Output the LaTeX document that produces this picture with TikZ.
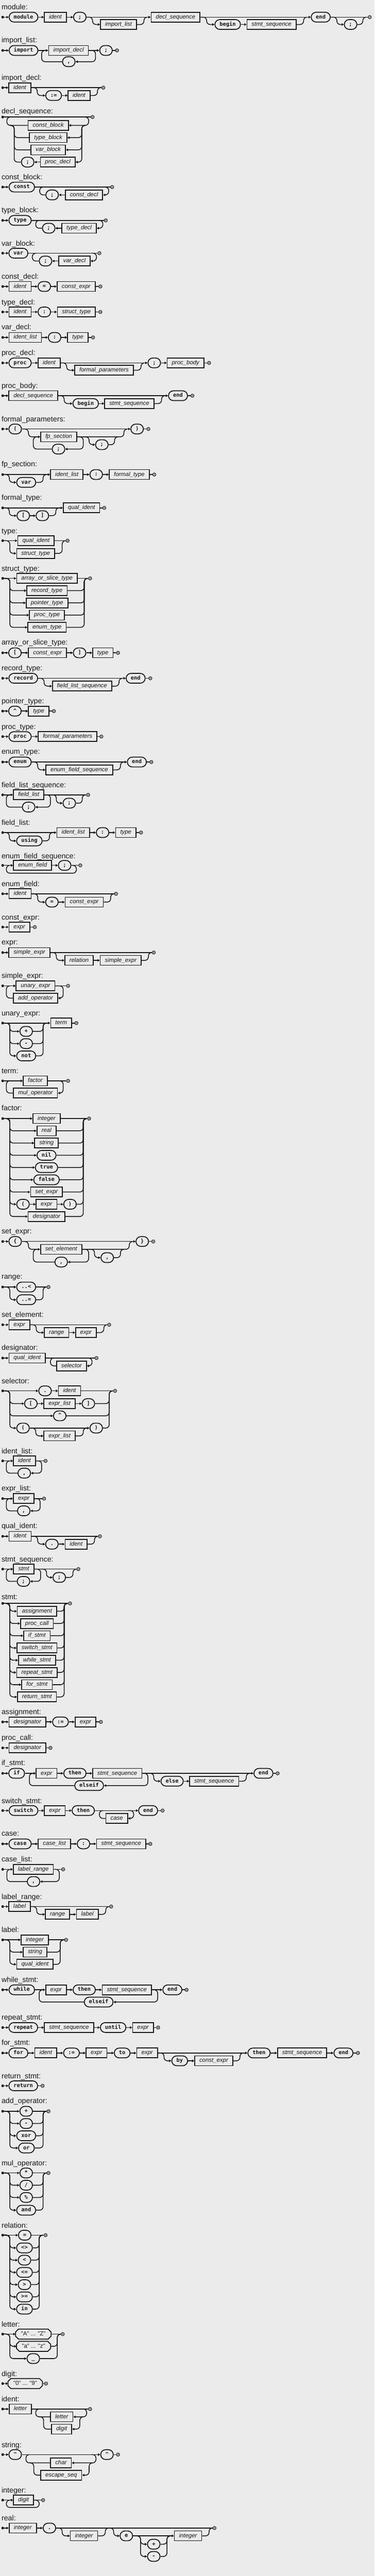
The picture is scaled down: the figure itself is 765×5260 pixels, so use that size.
\documentclass[tikz,border=0pt]{standalone}
\usepackage{fontspec}
\usetikzlibrary{arrows.meta,calc}
\newfontfamily\lblfont{Liberation Sans}
\newfontfamily\tmfont{DejaVu Sans Mono}
\definecolor{bgc}{HTML}{EBEBEB}
\definecolor{ink}{HTML}{161616}
\tikzset{
 rr/.style={line width=1.6pt,draw=ink},
 arr/.style={-{Triangle[length=4.5pt,width=5pt]}},
 nt/.style={draw=ink,line width=1.8pt,rectangle,minimum height=20pt,inner xsep=9.5pt,inner ysep=0pt,text height=8.6pt,text depth=2.4pt,font=\lblfont\itshape\fontsize{12}{12}\selectfont,text=ink},
 tm/.style={draw=ink,line width=1.8pt,rectangle,rounded corners=10pt,minimum height=20pt,minimum width=25pt,inner xsep=9.5pt,inner ysep=0pt,text height=8pt,text depth=2.2pt,font=\tmfont\bfseries\fontsize{11}{11}\selectfont,text=ink},
 ocn/.style={rectangle,minimum height=20pt,inner xsep=11pt,inner ysep=0pt,text height=8.6pt,text depth=2.4pt,font=\lblfont\fontsize{12}{12}\selectfont,text=ink},
 ocl/.style={draw=ink,line width=1.8pt},
 lbl/.style={anchor=base west,inner sep=0pt,font=\lblfont\fontsize{15}{15}\selectfont,text=ink},
 stn/.style={circle,fill=ink,inner sep=0pt,minimum size=5.5pt},
 enn/.style={circle,draw=ink,line width=1.2pt,inner sep=0pt,minimum size=6.5pt,path picture={\fill[ink] (path picture bounding box.center) circle (1.2pt);}},
}
\newcommand\RLbl[2]{\node[lbl] (lab#1) at (3,{#1+5}) {#2};}
\newcommand\RSt[2]{\node[stn] (#1) at (5.5,#2) {};}
\newcommand\REn[3]{\node[enn] (#1) at (#2,#3) {};}
\newcommand\RNt[4]{\node[nt] (#1) at (#2,#3) {#4};}
\newcommand\RTm[4]{\node[tm] (#1) at (#2,#3) {#4};}
\newcommand\ROc[4]{\node[ocn] (#1) at (#2,#3) {#4};\draw[ocl] ($(#1.north west)+(6,0)$) -- ($(#1.north east)+(-6,0)$) -- ($(#1.north east)+(0,6)$) -- ($(#1.south east)+(0,-6)$) -- ($(#1.south east)+(-6,0)$) -- ($(#1.south west)+(6,0)$) -- ($(#1.south west)+(0,-6)$) -- ($(#1.north west)+(0,6)$) -- cycle;}
\newcommand\RAr[2]{\draw[rr,arr] (#1.east) -- (#2.west);}
\newcommand\RAl[2]{\draw[rr,arr] (#1.west) -- (#2.east);}
\newcommand\RLn[2]{\draw[rr] (#1.east) -- (#2.west);}
\newcommand\RBd[4]{\draw[rr,arr,rounded corners=7pt] (#1,#2) -- (#3,#2) |- (#4);}
\newcommand\RBu[4]{\draw[rr,rounded corners=7pt] (#1) -| (#2,#3) -- (#4,#3);}
\newcommand\RCh[6]{\RBd{#2}{#3}{#4}{#1.west}\RBu{#1.east}{#5}{#3}{#6}}
\begin{document}
\begin{tikzpicture}[x=1pt,y=-1pt]
\useasboundingbox (0,0) rectangle (765,5260);
\fill[bgc] (0,0) rectangle (765,5260);
% module
\RLbl{14}{module:}
\RSt{ma}{35}\RTm{mb}{48}{35}{module}\RNt{mc}{113}{35}{ident}\RTm{md}{163}{35}{;}
\RNt{me}{242}{50}{import\_list}\RNt{mf}{358.5}{35}{decl\_sequence}\RTm{mg}{465}{50}{begin}
\RNt{mh}{554.5}{50}{stmt\_sequence}\RTm{mi}{655}{35}{end}\RTm{mj}{716}{50}{;}\REn{mk}{755}{35}
\RAr{ma}{mb}\RAr{mb}{mc}\RAr{mc}{md}\RAr{md}{mf}
\RBd{177}{35}{189}{me.west}\RBu{me.east}{294}{35}{301}
\RAr{mf}{mi}\RBd{410}{35}{422}{mg.west}\RAr{mg}{mh}\RBu{mh.east}{620}{35}{627}
\RLn{mi}{mk}\RBd{676}{35}{688}{mj.west}\RBu{mj.east}{741}{35}{748}
% import_list
\RLbl{82}{import\_list:}
\RSt{na}{103}\RTm{nb}{48}{103}{import}\RNt{nc}{140}{103}{import\_decl}\RTm{nd}{140.5}{126}{,}\RTm{ne}{216.5}{103}{;}\REn{nf}{239}{103}
\RAr{na}{nb}\RAr{nb}{nc}\RAr{nc}{ne}\RLn{ne}{nf}
\RBd{182}{103}{195}{nd.east}\RBu{nd.west}{85}{103}{92}
% import_decl
\RLbl{159}{import\_decl:}
\RSt{oa}{179}\RNt{ob}{40.5}{179}{ident}\RTm{oc}{109.5}{195}{:=}\RNt{od}{161.5}{195}{ident}\REn{oe}{211}{179}
\RAr{oa}{ob}\RLn{ob}{oe}\RBd{64}{179}{76}{oc.west}\RAr{oc}{od}\RBu{od.east}{199}{179}{206}
% decl_sequence
\RLbl{227}{decl\_sequence:}
\RSt{pa}{239}\REn{pz}{189}{239}\RLn{pa}{pz}
\RNt{pb}{98.5}{256}{const\_block}\RNt{pc}{98.5}{281}{type\_block}\RNt{pd}{98.5}{306}{var\_block}
\RNt{pe}{118}{331}{proc\_decl}\RTm{pf}{56.5}{331}{;}
\RBd{170}{239}{181}{pb.east}\RBu{pb.west}{14}{239}{22}
\RBd{174}{256}{167}{pc.east}\RBd{174}{256}{167}{pd.east}\RBd{174}{256}{167}{pe.east}
\RBu{pc.west}{29}{256}{21}\RBu{pd.west}{29}{256}{21}\RAl{pe}{pf}\RBu{pf.west}{29}{256}{21}
% const_block
\RLbl{362}{const\_block:}
\RSt{qa}{382}\RTm{qb}{44.5}{382}{const}\REn{qz}{229}{382}\RAr{qa}{qb}\RLn{qb}{qz}
\RNt{qc}{171.5}{398}{const\_decl}\RTm{qd}{106.5}{398}{;}
\RBd{212}{382}{222}{qc.east}\RAl{qc}{qd}\RBu{qd.west}{81}{382}{88}
% type_block
\RLbl{429}{type\_block:}
\RSt{ra}{450}\RTm{rb}{41}{450}{type}\REn{rz}{216}{450}\RAr{ra}{rb}\RLn{rb}{rz}
\RNt{rc}{161.5}{466}{type\_decl}\RTm{rd}{99.5}{466}{;}
\RBd{199}{450}{210}{rc.east}\RAl{rc}{rd}\RBu{rd.west}{73}{450}{80}
% var_block
\RLbl{497}{var\_block:}
\RSt{sa}{517}\RTm{sb}{37.5}{517}{var}\REn{sz}{203}{517}\RAr{sa}{sb}\RLn{sb}{sz}
\RNt{sc}{152}{533}{var\_decl}\RTm{sd}{93}{533}{;}
\RBd{187}{517}{197}{sc.east}\RAl{sc}{sd}\RBu{sd.west}{66}{517}{73}
% const_decl
\RLbl{565}{const\_decl:}
\RSt{ta}{585}\RNt{tb}{41}{585}{ident}\RTm{tc}{90.5}{585}{=}\RNt{td}{155.5}{585}{const\_expr}\REn{tz}{205}{585}
\RAr{ta}{tb}\RAr{tb}{tc}\RAr{tc}{td}\RLn{td}{tz}
% type_decl
\RLbl{617}{type\_decl:}
\RSt{ua}{637}\RNt{ub}{41}{637}{ident}\RTm{uc}{90.5}{637}{:}\RNt{ud}{156}{637}{struct\_type}\REn{uz}{205}{637}
\RAr{ua}{ub}\RAr{ub}{uc}\RAr{uc}{ud}\RLn{ud}{uz}
% var_decl
\RLbl{668}{var\_decl:}
\RSt{va}{689}\RNt{vb}{51.5}{689}{ident\_list}\RTm{vc}{111.5}{689}{:}\RNt{vd}{159}{689}{type}\REn{vz}{190}{689}
\RAr{va}{vb}\RAr{vb}{vc}\RAr{vc}{vd}\RLn{vd}{vz}
% proc_decl
\RLbl{720}{proc\_decl:}
\RSt{wa}{741}\RTm{wb}{41}{741}{proc}\RNt{wc}{100.5}{741}{ident}\RNt{wd}{212.5}{756}{formal\_parameters}\RTm{we}{315}{741}{;}\RNt{wf}{379}{741}{proc\_body}\REn{wz}{427}{741}
\RAr{wa}{wb}\RAr{wb}{wc}\RAr{wc}{we}\RAr{we}{wf}\RLn{wf}{wz}
\RBd{124}{741}{136}{wd.west}\RBu{wd.east}{288}{741}{295}
% proc_body
\RLbl{788}{proc\_body:}
\RSt{xa}{808}\RNt{xb}{68}{808}{decl\_sequence}\RTm{xc}{175}{824}{begin}\RNt{xd}{264}{824}{stmt\_sequence}\RTm{xe}{363.5}{808}{end}\REn{xz}{393}{808}
\RAr{xa}{xb}\RAr{xb}{xe}\RLn{xe}{xz}\RBd{119}{808}{131}{xc.west}\RAr{xc}{xd}\RBu{xd.east}{330}{808}{337}
% formal_parameters
\RLbl{856}{formal\_parameters:}
\RSt{ya}{876}\RTm{yb}{31}{876}{(}\RTm{yz}{280}{876}{)}\REn{yy}{303}{876}
\RAr{ya}{yb}\RAr{yb}{yz}\RLn{yz}{yy}
\RNt{yc}{120}{892}{fp\_section}\RTm{yd}{119.5}{917}{;}\RTm{ye}{208}{908}{;}
\RBd{45}{876}{58}{yc.west}
\RBd{158}{892}{170}{yd.east}\RBu{yd.west}{68}{892}{75}
\RBd{170}{892}{182}{ye.west}\RBu{ye.east}{234}{892}{241}
\RBu{yc.east}{253}{876}{260}
% fp_section
\RLbl{948}{fp\_section:}
\RSt{za}{969}\RTm{zb}{53.5}{985}{var}\RNt{zc}{136.5}{969}{ident\_list}\RTm{zd}{196.5}{969}{:}\RNt{ze}{264}{969}{formal\_type}\REn{zz}{315}{969}
\RAr{za}{zc}\RAr{zc}{zd}\RAr{zd}{ze}\RLn{ze}{zz}
\RBd{8}{969}{19}{zb.west}\RBu{zb.east}{88}{969}{95}
% formal_type
\RLbl{1016}{formal\_type:}
\RSt{Aa}{1037}\RTm{Ab}{47.5}{1053}{[}\RTm{Ac}{86.5}{1053}{]}\RNt{Ad}{166.5}{1037}{qual\_ident}\REn{Az}{213}{1037}
\RAr{Aa}{Ad}\RLn{Ad}{Az}\RBd{8}{1037}{19}{Ab.west}\RAr{Ab}{Ac}\RBu{Ac.east}{114}{1037}{121}
% type
\RLbl{1084}{type:}
\RSt{Ba}{1104}\RNt{Bb}{73.5}{1104}{qual\_ident}\RNt{Bc}{73}{1130}{struct\_type}\REn{Bz}{138}{1104}
\RAr{Ba}{Bb}\RLn{Bb}{Bz}\RCh{Bc}{8}{1104}{20}{127}{134}
% struct_type
\RLbl{1161}{struct\_type:}
\RSt{Ca}{1181}\RNt{Cb}{96}{1181}{array\_or\_slice\_type}\RNt{Cc}{96}{1206}{record\_type}\RNt{Cd}{96}{1231}{pointer\_type}\RNt{Ce}{96}{1256}{proc\_type}\RNt{Cf}{96}{1281}{enum\_type}\REn{Cz}{184}{1181}
\RAr{Ca}{Cb}\RLn{Cb}{Cz}
\RCh{Cc}{8}{1181}{20}{172}{179}\RCh{Cd}{8}{1181}{20}{172}{179}\RCh{Ce}{8}{1181}{20}{172}{179}\RCh{Cf}{8}{1181}{20}{172}{179}
% array_or_slice_type
\RLbl{1312}{array\_or\_slice\_type:}
\RSt{Da}{1333}\RTm{Db}{30.5}{1333}{[}\RNt{Dc}{97}{1333}{const\_expr}\RTm{Dd}{162.5}{1333}{]}\RNt{De}{210}{1333}{type}\REn{Dz}{241}{1333}
\RAr{Da}{Db}\RAr{Db}{Dc}\RAr{Dc}{Dd}\RAr{Dd}{De}\RLn{De}{Dz}
% record_type
\RLbl{1364}{record\_type:}
\RSt{Ea}{1385}\RTm{Eb}{47.5}{1385}{record}\RNt{Ec}{167.5}{1401}{field\_list\_sequence}\RTm{Ed}{277}{1385}{end}\REn{Ez}{307}{1385}
\RAr{Ea}{Eb}\RAr{Eb}{Ed}\RLn{Ed}{Ez}\RBd{78}{1385}{90}{Ec.west}\RBu{Ec.east}{243}{1385}{250}
% pointer_type
\RLbl{1432}{pointer\_type:}
\RSt{Fa}{1452}\RTm{Fb}{30.5}{1452}{\textasciicircum}\RNt{Fc}{79}{1452}{type}\REn{Fz}{110}{1452}
\RAr{Fa}{Fb}\RAr{Fb}{Fc}\RLn{Fc}{Fz}
% proc_type
\RLbl{1484}{proc\_type:}
\RSt{Ga}{1504}\RTm{Gb}{41}{1504}{proc}\RNt{Gc}{138}{1504}{formal\_parameters}\REn{Gz}{207}{1504}
\RAr{Ga}{Gb}\RAr{Gb}{Gc}\RLn{Gc}{Gz}
% enum_type
\RLbl{1535}{enum\_type:}
\RSt{Ha}{1556}\RTm{Hb}{41}{1556}{enum}\RNt{Hc}{162}{1572}{enum\_field\_sequence}\RTm{Hd}{279.5}{1556}{end}\REn{Hz}{309}{1556}
\RAr{Ha}{Hb}\RAr{Hb}{Hd}\RLn{Hd}{Hz}\RBd{65}{1556}{77}{Hc.west}\RBu{Hc.east}{246}{1556}{253}
% field_list_sequence
\RLbl{1603}{field\_list\_sequence:}
\RSt{Ia}{1623}\RNt{Ib}{58.5}{1623}{field\_list}\RTm{Ic}{58.5}{1648}{;}\RTm{Id}{141.5}{1640}{;}\REn{Iz}{180}{1623}
\RAr{Ia}{Ib}\RLn{Ib}{Iz}\RBd{91}{1623}{103}{Ic.east}\RBu{Ic.west}{13}{1623}{20}\RBd{103}{1623}{115}{Id.west}\RBu{Id.east}{168}{1623}{175}
% field_list
\RLbl{1680}{field\_list:}
\RSt{Ja}{1700}\RTm{Jb}{60}{1717}{using}\RNt{Jc}{149.5}{1700}{ident\_list}\RTm{Jd}{209.5}{1700}{:}\RNt{Je}{257}{1700}{type}\REn{Jz}{288}{1700}
\RAr{Ja}{Jc}\RAr{Jc}{Jd}\RAr{Jd}{Je}\RLn{Je}{Jz}\RBd{8}{1700}{19}{Jb.west}\RBu{Jb.east}{101}{1700}{108}
% enum_field_sequence
\RLbl{1748}{enum\_field\_sequence:}
\RSt{Ka}{1767}\RNt{Kb}{66.5}{1767}{enum\_field}\RTm{Kc}{132}{1767}{;}\REn{Kz}{164}{1767}
\RAr{Ka}{Kb}\RAr{Kb}{Kc}\RLn{Kc}{Kz}
\draw[rr,rounded corners=7pt] (Kc.east) -- (156,1767) -- (156,1783) -- (13,1783) -- (13,1767) -- (20,1767);
% enum_field
\RLbl{1805}{enum\_field:}
\RSt{La}{1825}\RNt{Lb}{41}{1825}{ident}\RTm{Lc}{106}{1842}{=}\RNt{Ld}{172}{1842}{const\_expr}\REn{Lz}{237}{1825}
\RAr{La}{Lb}\RLn{Lb}{Lz}\RBd{65}{1825}{77}{Lc.west}\RAr{Lc}{Ld}\RBu{Ld.east}{226}{1825}{233}
% const_expr
\RLbl{1873}{const\_expr:}
\RSt{Ma}{1893}\RNt{Mb}{39.5}{1893}{expr}\REn{Mz}{71}{1893}\RAr{Ma}{Mb}\RLn{Mb}{Mz}
% expr
\RLbl{1924}{expr:}
\RSt{Na}{1945}\RNt{Nb}{60}{1945}{simple\_expr}\RNt{Nc}{161.5}{1961}{relation}\RNt{Nd}{246.5}{1961}{simple\_expr}\REn{Nz}{314}{1945}
\RAr{Na}{Nb}\RLn{Nb}{Nz}\RBd{103}{1945}{115}{Nc.west}\RAr{Nc}{Nd}\RBu{Nd.east}{303}{1945}{310}
% simple_expr
\RLbl{1992}{simple\_expr:}
\RSt{Oa}{2013}\RNt{Ob}{72.5}{2013}{unary\_expr}\RNt{Oc}{72.5}{2038}{add\_operator}\REn{Oz}{139}{2013}
\RAr{Oa}{Ob}\RLn{Ob}{Oz}\RBd{113}{2013}{129}{Oc.east}\RBu{Oc.west}{13}{2013}{20}
% unary_expr
\RLbl{2069}{unary\_expr:}
\RSt{Pa}{2089}\RTm{Pb}{53.5}{2106}{+}\RTm{Pc}{53.5}{2131}{-}\RTm{Pd}{53.5}{2156}{not}\RNt{Pe}{125}{2089}{term}\REn{Pz}{156}{2089}
\RAr{Pa}{Pe}\RLn{Pe}{Pz}
\RCh{Pb}{8}{2089}{20}{88}{95}\RCh{Pc}{8}{2089}{20}{88}{95}\RCh{Pd}{8}{2089}{20}{88}{95}
% term
\RLbl{2187}{term:}
\RSt{Qa}{2207}\RNt{Qb}{72}{2207}{factor}\RNt{Qc}{72.5}{2232}{mul\_operator}\REn{Qz}{139}{2207}
\RAr{Qa}{Qb}\RLn{Qb}{Qz}\RBd{98}{2207}{129}{Qc.east}\RBu{Qc.west}{13}{2207}{20}
% factor
\RLbl{2263}{factor:}
\RSt{Ra}{2284}\RNt{Rb}{95}{2284}{integer}\RNt{Rc}{95}{2309}{real}\RNt{Rd}{95}{2334}{string}
\RTm{Re}{95}{2359}{nil}\RTm{Rf}{95}{2384}{true}\RTm{Rg}{95}{2409}{false}\RNt{Rh}{95}{2434}{set\_expr}
\RTm{Ri}{47}{2459}{(}\RNt{Rj}{95}{2459}{expr}\RTm{Rk}{143}{2459}{)}\RNt{Rl}{95}{2484}{designator}\REn{Rz}{182}{2284}
\RAr{Ra}{Rb}\RLn{Rb}{Rz}
\RCh{Rc}{8}{2284}{20}{170}{177}\RCh{Rd}{8}{2284}{20}{170}{177}\RCh{Re}{8}{2284}{20}{170}{177}\RCh{Rf}{8}{2284}{20}{170}{177}
\RCh{Rg}{8}{2284}{20}{170}{177}\RCh{Rh}{8}{2284}{20}{170}{177}\RCh{Rl}{8}{2284}{20}{170}{177}
\RBd{8}{2284}{20}{Ri.west}\RAr{Ri}{Rj}\RAr{Rj}{Rk}\RBu{Rk.east}{170}{2284}{177}
% set_expr
\RLbl{2514}{set\_expr:}
\RSt{Sa}{2535}\RTm{Sb}{31}{2535}{\{}\RTm{Sz}{290.5}{2535}{\}}\REn{Sy}{313}{2535}
\RAr{Sa}{Sb}\RAr{Sb}{Sz}\RLn{Sz}{Sy}
\RNt{Sc}{125}{2551}{set\_element}\RTm{Sd}{125}{2577}{,}\RTm{Se}{219}{2568}{,}
\RBd{45}{2535}{58}{Sc.west}
\RBd{168}{2551}{181}{Sd.east}\RBu{Sd.west}{68}{2551}{75}
\RBd{181}{2551}{193}{Se.west}\RBu{Se.east}{246}{2551}{253}
\RBu{Sc.east}{264}{2535}{271}
% range
\RLbl{2607}{range:}
\RSt{Ta}{2628}\RTm{Tb}{53.5}{2628}{..<}\RTm{Tc}{53.5}{2654}{..=}\REn{Tz}{99}{2628}
\RAr{Ta}{Tb}\RLn{Tb}{Tz}\RCh{Tc}{8}{2628}{20}{88}{95}
% set_element
\RLbl{2684}{set\_element:}
\RSt{Ua}{2705}\RNt{Ub}{39.5}{2705}{expr}\RNt{Uc}{115.5}{2721}{range}\RNt{Ud}{175.5}{2721}{expr}\REn{Uz}{223}{2705}
\RAr{Ua}{Ub}\RLn{Ub}{Uz}\RBd{62}{2705}{74}{Uc.west}\RAr{Uc}{Ud}\RBu{Ud.east}{212}{2705}{219}
% designator
\RLbl{2752}{designator:}
\RSt{Va}{2773}\RNt{Vb}{55.5}{2773}{qual\_ident}\RNt{Vc}{146}{2789}{selector}\REn{Vz}{197}{2773}
\RAr{Va}{Vb}\RLn{Vb}{Vz}\RBd{178}{2773}{188}{Vc.east}\RBu{Vc.west}{103}{2773}{110}
% selector
\RLbl{2820}{selector:}
\RSt{Wa}{2840}\RTm{Wb}{92}{2840}{.}\RNt{Wc}{142}{2840}{ident}
\RTm{Wd}{63}{2866}{[}\RNt{We}{121.5}{2866}{expr\_list}\RTm{Wf}{180.5}{2866}{]}
\RTm{Wg}{122}{2891}{\textasciicircum}
\RTm{Wh}{47}{2916}{(}\RNt{Wi}{121.5}{2932}{expr\_list}\RTm{Wj}{196.5}{2916}{)}\REn{Wz}{235}{2840}
\RAr{Wa}{Wb}\RAr{Wb}{Wc}\RLn{Wc}{Wz}
\RBd{8}{2840}{20}{Wd.west}\RAr{Wd}{We}\RAr{We}{Wf}\RBu{Wf.east}{223}{2840}{230}
\RCh{Wg}{8}{2840}{20}{223}{230}
\RBd{8}{2840}{20}{Wh.west}\RAr{Wh}{Wj}\RBd{61}{2916}{73}{Wi.west}\RBu{Wi.east}{170}{2916}{177}\RBu{Wj.east}{223}{2840}{230}
% ident_list
\RLbl{2963}{ident\_list:}
\RSt{Xa}{2983}\RNt{Xb}{50}{2983}{ident}\RTm{Xc}{49.5}{3008}{,}\REn{Xz}{93}{2983}
\RAr{Xa}{Xb}\RLn{Xb}{Xz}\RBd{74}{2983}{85}{Xc.east}\RBu{Xc.west}{13}{2983}{20}
% expr_list
\RLbl{3039}{expr\_list:}
\RSt{Ya}{3060}\RNt{Yb}{48.5}{3060}{expr}\RTm{Yc}{48.5}{3085}{,}\REn{Yz}{90}{3060}
\RAr{Ya}{Yb}\RLn{Yb}{Yz}\RBd{71}{3060}{82}{Yc.east}\RBu{Yc.west}{13}{3060}{20}
% qual_ident
\RLbl{3116}{qual\_ident:}
\RSt{Za}{3137}\RNt{Zb}{41}{3137}{ident}\RTm{Zc}{106}{3153}{.}\RNt{Zd}{155.5}{3153}{ident}\REn{Zz}{204}{3137}
\RAr{Za}{Zb}\RLn{Zb}{Zz}\RBd{65}{3137}{77}{Zc.west}\RAr{Zc}{Zd}\RBu{Zd.east}{193}{3137}{200}
% stmt_sequence
\RLbl{3184}{stmt\_sequence:}
\RSt{d41a}{3204}\RNt{d41b}{48.5}{3204}{stmt}\RTm{d41c}{48}{3229}{;}\RTm{d41d}{121}{3221}{;}\REn{d41z}{160}{3204}
\RAr{d41a}{d41b}\RLn{d41b}{d41z}\RBd{71}{3204}{83}{d41c.east}\RBu{d41c.west}{13}{3204}{20}\RBd{83}{3204}{95}{d41d.west}\RBu{d41d.east}{149}{3204}{156}
% stmt
\RLbl{3261}{stmt:}
\RSt{d42a}{3274}\REn{d42z}{143}{3274}\RLn{d42a}{d42z}
\RNt{d42b}{75.5}{3290}{assignment}\RNt{d42c}{75.5}{3315}{proc\_call}\RNt{d42d}{75.5}{3340}{if\_stmt}\RNt{d42e}{75.5}{3365}{switch\_stmt}
\RNt{d42f}{75.5}{3390}{while\_stmt}\RNt{d42g}{75.5}{3415}{repeat\_stmt}\RNt{d42h}{75.5}{3440}{for\_stmt}\RNt{d42i}{75.5}{3465}{return\_stmt}
\RCh{d42b}{8}{3274}{20}{131}{138}\RCh{d42c}{8}{3274}{20}{131}{138}\RCh{d42d}{8}{3274}{20}{131}{138}\RCh{d42e}{8}{3274}{20}{131}{138}
\RCh{d42f}{8}{3274}{20}{131}{138}\RCh{d42g}{8}{3274}{20}{131}{138}\RCh{d42h}{8}{3274}{20}{131}{138}\RCh{d42i}{8}{3274}{20}{131}{138}
% assignment
\RLbl{3496}{assignment:}
\RSt{d43a}{3516}\RNt{d43b}{56}{3516}{designator}\RTm{d43c}{123.5}{3516}{:=}\RNt{d43d}{174.5}{3516}{expr}\REn{d43z}{206}{3516}
\RAr{d43a}{d43b}\RAr{d43b}{d43c}\RAr{d43c}{d43d}\RLn{d43d}{d43z}
% proc_call
\RLbl{3548}{proc\_call:}
\RSt{d44a}{3569}\RNt{d44b}{56}{3569}{designator}\REn{d44z}{103}{3569}\RAr{d44a}{d44b}\RLn{d44b}{d44z}
% if_stmt
\RLbl{3600}{if\_stmt:}
\RSt{d45a}{3621}\RTm{d45b}{34}{3621}{if}\RNt{d45c}{95}{3621}{expr}\RTm{d45d}{153}{3621}{then}\RNt{d45e}{239.5}{3621}{stmt\_sequence}
\RTm{d45f}{182}{3646}{elseif}\RTm{d45g}{351.5}{3637}{else}\RNt{d45h}{437.5}{3637}{stmt\_sequence}\RTm{d45i}{538}{3621}{end}\REn{d45z}{567}{3621}
\RAr{d45a}{d45b}\RAr{d45b}{d45c}\RAr{d45c}{d45d}\RAr{d45d}{d45e}\RAr{d45e}{d45i}\RLn{d45i}{d45z}
\RBd{291}{3621}{302}{d45f.east}\RBu{d45f.west}{60}{3621}{67}
\RBd{302}{3621}{314}{d45g.west}\RAr{d45g}{d45h}\RBu{d45h.east}{503}{3621}{510}
% switch_stmt
\RLbl{3677}{switch\_stmt:}
\RSt{d46a}{3697}\RTm{d46b}{48}{3697}{switch}\RNt{d46c}{112}{3697}{expr}\RTm{d46d}{170}{3697}{then}\RNt{d46e}{238.5}{3713}{case}\RTm{d46f}{302.5}{3697}{end}\REn{d46z}{332}{3697}
\RAr{d46a}{d46b}\RAr{d46b}{d46c}\RAr{d46c}{d46d}\RAr{d46d}{d46f}\RLn{d46f}{d46z}
\RBd{262}{3697}{273}{d46e.east}\RBu{d46e.west}{203}{3697}{210}
% case
\RLbl{3744}{case:}
\RSt{d47a}{3765}\RTm{d47b}{41}{3765}{case}\RNt{d47c}{111}{3765}{case\_list}\RTm{d47d}{170.5}{3765}{:}\RNt{d47e}{247.5}{3765}{stmt\_sequence}\REn{d47z}{307}{3765}
\RAr{d47a}{d47b}\RAr{d47b}{d47c}\RAr{d47c}{d47d}\RAr{d47d}{d47e}\RLn{d47e}{d47z}
% case_list
\RLbl{3796}{case\_list:}
\RSt{d48a}{3817}\RNt{d48b}{68}{3817}{label\_range}\RTm{d48c}{68.5}{3842}{,}\REn{d48z}{129}{3817}
\RAr{d48a}{d48b}\RLn{d48b}{d48z}\RBd{111}{3817}{121}{d48c.east}\RBu{d48c.west}{14}{3817}{21}
% label_range
\RLbl{3873}{label\_range:}
\RSt{d49a}{3893}\RNt{d49b}{40}{3893}{label}\RNt{d49c}{117.5}{3909}{range}\RNt{d49d}{178.5}{3909}{label}\REn{d49z}{227}{3893}
\RAr{d49a}{d49b}\RLn{d49b}{d49z}\RBd{63}{3893}{75}{d49c.west}\RAr{d49c}{d49d}\RBu{d49d.east}{216}{3893}{223}
% label
\RLbl{3941}{label:}
\RSt{d50a}{3961}\RNt{d50b}{71}{3961}{integer}\RNt{d50c}{71.5}{3986}{string}\RNt{d50d}{71.5}{4011}{qual\_ident}\REn{d50z}{135}{3961}
\RAr{d50a}{d50b}\RLn{d50b}{d50z}\RCh{d50c}{8}{3961}{20}{123}{130}\RCh{d50d}{8}{3961}{20}{123}{130}
% while_stmt
\RLbl{4042}{while\_stmt:}
\RSt{d51a}{4063}\RTm{d51b}{44.5}{4063}{while}\RNt{d51c}{114.5}{4063}{expr}\RTm{d51d}{172}{4063}{then}\RNt{d51e}{259}{4063}{stmt\_sequence}
\RTm{d51f}{201.5}{4088}{elseif}\RTm{d51g}{352}{4063}{end}\REn{d51z}{381}{4063}
\RAr{d51a}{d51b}\RAr{d51b}{d51c}\RAr{d51c}{d51d}\RAr{d51d}{d51e}\RAr{d51e}{d51g}\RLn{d51g}{d51z}
\RBd{311}{4063}{322}{d51f.east}\RBu{d51f.west}{80}{4063}{87}
% repeat_stmt
\RLbl{4119}{repeat\_stmt:}
\RSt{d52a}{4140}\RTm{d52b}{47.5}{4140}{repeat}\RNt{d52c}{141}{4140}{stmt\_sequence}\RTm{d52d}{231}{4140}{until}\RNt{d52e}{292}{4140}{expr}\REn{d52z}{323}{4140}
\RAr{d52a}{d52b}\RAr{d52b}{d52c}\RAr{d52c}{d52d}\RAr{d52d}{d52e}\RLn{d52e}{d52z}
% for_stmt
\RLbl{4171}{for\_stmt:}
\RSt{d53a}{4192}\RTm{d53b}{37.5}{4192}{for}\RNt{d53c}{93.5}{4192}{ident}\RTm{d53d}{146}{4192}{:=}\RNt{d53e}{197}{4192}{expr}\RTm{d53f}{249.5}{4192}{to}\RNt{d53g}{300.5}{4192}{expr}
\RTm{d53h}{367}{4208}{by}\RNt{d53i}{436.5}{4208}{const\_expr}\RTm{d53j}{529}{4192}{then}\RNt{d53k}{617}{4192}{stmt\_sequence}\RTm{d53l}{701.5}{4192}{end}\REn{d53z}{731}{4192}
\RAr{d53a}{d53b}\RAr{d53b}{d53c}\RAr{d53c}{d53d}\RAr{d53d}{d53e}\RAr{d53e}{d53f}\RAr{d53f}{d53g}\RAr{d53g}{d53j}\RAr{d53j}{d53k}\RAr{d53k}{d53l}\RLn{d53l}{d53z}
\RBd{323}{4192}{335}{d53h.west}\RAr{d53h}{d53i}\RBu{d53i.east}{490}{4192}{497}
% return_stmt
\RLbl{4239}{return\_stmt:}
\RSt{d54a}{4259}\RTm{d54b}{47.5}{4259}{return}\REn{d54z}{87}{4259}\RAr{d54a}{d54b}\RLn{d54b}{d54z}
% add_operator
\RLbl{4290}{add\_operator:}
\RSt{d55a}{4311}\RTm{d55b}{53.5}{4311}{+}\RTm{d55c}{53.5}{4336}{-}\RTm{d55d}{53.5}{4361}{xor}\RTm{d55e}{54}{4386}{or}\REn{d55z}{99}{4311}
\RAr{d55a}{d55b}\RLn{d55b}{d55z}\RCh{d55c}{8}{4311}{20}{88}{95}\RCh{d55d}{8}{4311}{20}{88}{95}\RCh{d55e}{8}{4311}{20}{88}{95}
% mul_operator
\RLbl{4417}{mul\_operator:}
\RSt{d56a}{4437}\RTm{d56b}{53.5}{4437}{*}\RTm{d56c}{53.5}{4462}{/}\RTm{d56d}{53.5}{4487}{\%}\RTm{d56e}{53.5}{4513}{and}\REn{d56z}{99}{4437}
\RAr{d56a}{d56b}\RLn{d56b}{d56z}\RCh{d56c}{8}{4437}{20}{88}{95}\RCh{d56d}{8}{4437}{20}{88}{95}\RCh{d56e}{8}{4437}{20}{88}{95}
% relation
\RLbl{4544}{relation:}
\RSt{d57a}{4564}\RTm{d57b}{50.5}{4564}{=}\RTm{d57c}{50}{4590}{<>}\RTm{d57d}{50}{4615}{<}\RTm{d57e}{50}{4640}{<=}\RTm{d57f}{50}{4665}{>}\RTm{d57g}{50}{4690}{>=}\RTm{d57h}{50}{4715}{in}\REn{d57z}{93}{4564}
\RAr{d57a}{d57b}\RLn{d57b}{d57z}
\RCh{d57c}{8}{4564}{20}{80}{87}\RCh{d57d}{8}{4564}{20}{80}{87}\RCh{d57e}{8}{4564}{20}{80}{87}\RCh{d57f}{8}{4564}{20}{80}{87}\RCh{d57g}{8}{4564}{20}{80}{87}\RCh{d57h}{8}{4564}{20}{80}{87}
% letter
\RLbl{4746}{letter:}
\RSt{d58a}{4766}\ROc{d58b}{68}{4766}{"A" ... "Z"}\ROc{d58c}{68.5}{4791}{"a" ... "z"}\RTm{d58d}{68}{4816}{\_}\REn{d58z}{128}{4766}
\RAr{d58a}{d58b}\RLn{d58b}{d58z}\RCh{d58c}{8}{4766}{20}{117}{124}\RCh{d58d}{8}{4766}{20}{117}{124}
% digit
\RLbl{4847}{digit:}
\RSt{d59a}{4867}\ROc{d59b}{51.5}{4867}{"0" ... "9"}\REn{d59z}{94}{4867}\RAr{d59a}{d59b}\RLn{d59b}{d59z}
% ident
\RLbl{4899}{ident:}
\RSt{d60a}{4919}\RNt{d60b}{41.5}{4919}{letter}\RNt{d60c}{126}{4935}{letter}\RNt{d60d}{126}{4960}{digit}\REn{d60z}{184}{4919}
\RAr{d60a}{d60b}\RLn{d60b}{d60z}
\RBd{168}{4919}{177}{d60c.east}\RBd{170}{4935}{163}{d60d.east}
\RBu{d60c.west}{73}{4919}{80}\RBu{d60d.west}{89}{4935}{80}
% string
\RLbl{4992}{string:}
\RSt{d61a}{5012}\RTm{d61b}{31}{5012}{"}\RNt{d61c}{124.5}{5029}{char}\RNt{d61d}{125}{5054}{escape\_seq}\RTm{d61e}{218.5}{5012}{"}\REn{d61z}{241}{5012}
\RAr{d61a}{d61b}\RAr{d61b}{d61e}\RLn{d61e}{d61z}
\RBd{187}{5012}{196}{d61c.east}\RBd{189}{5029}{182}{d61d.east}
\RBu{d61c.west}{53}{5012}{60}\RBu{d61d.west}{69}{5029}{60}
% integer
\RLbl{5085}{integer:}
\RSt{d62a}{5105}\RNt{d62b}{48}{5105}{digit}\REn{d62z}{88}{5105}
\RAr{d62a}{d62b}\RLn{d62b}{d62z}
\draw[rr,rounded corners=7pt] (d62b.east) -- (80,5105) -- (80,5120) -- (13,5120) -- (13,5105) -- (20,5105);
% real
\RLbl{5142}{real:}
\RSt{d63a}{5162}\RNt{d63b}{46.5}{5162}{integer}\RTm{d63c}{101}{5162}{.}\RNt{d63d}{171.5}{5178}{integer}\RTm{d63e}{258}{5178}{e}
\RTm{d63f}{314}{5195}{+}\RTm{d63g}{314}{5220}{-}\RNt{d63h}{384}{5178}{integer}\REn{d63z}{438}{5162}
\RAr{d63a}{d63b}\RAr{d63b}{d63c}\RLn{d63c}{d63z}
\RBd{115}{5162}{127}{d63d.west}\RBu{d63d.east}{215}{5162}{222}
\RBd{222}{5162}{232}{d63e.west}\RAr{d63e}{d63h}
\RCh{d63f}{272}{5178}{287}{341}{348}\RCh{d63g}{272}{5178}{287}{341}{348}
\RBu{d63h.east}{427}{5162}{434}
\end{tikzpicture}
\end{document}
